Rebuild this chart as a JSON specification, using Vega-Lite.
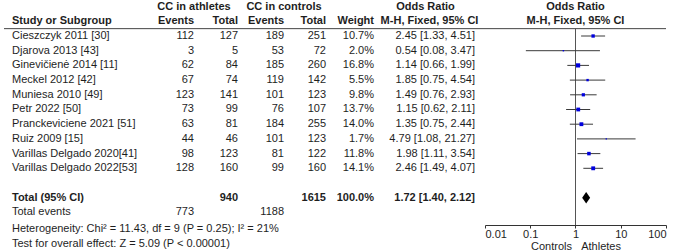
{
  "$schema": "https://vega.github.io/schema/vega-lite/v6.json",
  "padding": {"left": 3, "top": 0, "right": 11, "bottom": 0},
  "spacing": 0,
  "bounds": "flush",
  "config": {
    "view": {"stroke": null},
    "text": {"font": "Liberation Sans", "fontSize": 11, "color": "#1e1e1e", "baseline": "middle"},
    "rule": {"color": "#444444", "strokeWidth": 1}
  },
  "datasets": {
    "rows": [
      {"kind": "study", "row": 0, "label": "Cieszczyk  2011 [30]", "ev_a": 112, "tot_a": 127, "ev_c": 189, "tot_c": 251, "weight": 0.107, "or": 2.45, "lo": 1.33, "hi": 4.51, "ci": "2.45 [1.33, 4.51]"},
      {"kind": "study", "row": 1, "label": "Djarova 2013 [43]", "ev_a": 3, "tot_a": 5, "ev_c": 53, "tot_c": 72, "weight": 0.020, "or": 0.54, "lo": 0.08, "hi": 3.47, "ci": "0.54 [0.08, 3.47]"},
      {"kind": "study", "row": 2, "label": "Ginevičienė 2014 [11]", "ev_a": 62, "tot_a": 84, "ev_c": 185, "tot_c": 260, "weight": 0.168, "or": 1.14, "lo": 0.66, "hi": 1.99, "ci": "1.14 [0.66, 1.99]"},
      {"kind": "study", "row": 3, "label": "Meckel 2012 [42]", "ev_a": 67, "tot_a": 74, "ev_c": 119, "tot_c": 142, "weight": 0.055, "or": 1.85, "lo": 0.75, "hi": 4.54, "ci": "1.85 [0.75, 4.54]"},
      {"kind": "study", "row": 4, "label": "Muniesa 2010 [49]", "ev_a": 123, "tot_a": 141, "ev_c": 101, "tot_c": 123, "weight": 0.098, "or": 1.49, "lo": 0.76, "hi": 2.93, "ci": "1.49 [0.76, 2.93]"},
      {"kind": "study", "row": 5, "label": "Petr 2022 [50]", "ev_a": 73, "tot_a": 99, "ev_c": 76, "tot_c": 107, "weight": 0.137, "or": 1.15, "lo": 0.62, "hi": 2.11, "ci": "1.15 [0.62, 2.11]"},
      {"kind": "study", "row": 6, "label": "Pranckeviciene 2021 [51]", "ev_a": 63, "tot_a": 81, "ev_c": 184, "tot_c": 255, "weight": 0.140, "or": 1.35, "lo": 0.75, "hi": 2.44, "ci": "1.35 [0.75, 2.44]"},
      {"kind": "study", "row": 7, "label": "Ruiz 2009 [15]", "ev_a": 44, "tot_a": 46, "ev_c": 101, "tot_c": 123, "weight": 0.017, "or": 4.79, "lo": 1.08, "hi": 21.27, "ci": "4.79 [1.08, 21.27]"},
      {"kind": "study", "row": 8, "label": "Varillas Delgado 2020[41]", "ev_a": 98, "tot_a": 123, "ev_c": 81, "tot_c": 122, "weight": 0.118, "or": 1.98, "lo": 1.11, "hi": 3.54, "ci": "1.98 [1.11, 3.54]"},
      {"kind": "study", "row": 9, "label": "Varillas Delgado 2022[53]", "ev_a": 128, "tot_a": 160, "ev_c": 99, "tot_c": 160, "weight": 0.141, "or": 2.46, "lo": 1.49, "hi": 4.07, "ci": "2.46 [1.49, 4.07]"},
      {"kind": "total", "row": 11, "label": "Total (95% CI)", "tot_a": 940, "tot_c": 1615, "weight": 1.0, "or": 1.72, "lo": 1.40, "hi": 2.12, "ci": "1.72 [1.40, 2.12]"},
      {"kind": "events", "row": 12, "label": "Total events", "ev_a": 773, "ev_c": 1188},
      {"kind": "note", "row": 13, "label": "Heterogeneity: Chi² = 11.43, df = 9 (P = 0.25); I² = 21%"},
      {"kind": "note", "row": 14, "label": "Test for overall effect: Z = 5.09 (P < 0.00001)"}
    ]
  },
  "hconcat": [
    {
      "width": 147, "height": 252,
      "layer": [
        {"data": {"values": [{"t": "Study or Subgroup"}]}, "mark": {"type": "text", "align": "left", "dx": 8, "fontWeight": "bold"},
         "encoding": {"x": {"value": 0}, "y": {"datum": -1, "type": "quantitative", "scale": {"domain": [-2.381, 14.762], "reverse": true, "nice": false, "zero": false}, "axis": null}, "text": {"field": "t"}}},
        {"data": {"values": [{"r": 0}]}, "mark": "rule",
         "encoding": {"y": {"datum": -0.5, "type": "quantitative", "scale": {"domain": [-2.381, 14.762], "reverse": true, "nice": false, "zero": false}, "axis": null}}},
        {"data": {"name": "rows"}, "transform": [{"filter": "datum.kind == 'study' || datum.kind == 'events'"}], "mark": {"type": "text", "align": "left", "dx": 8},
         "encoding": {"x": {"value": 0}, "y": {"field": "row", "type": "quantitative", "scale": {"domain": [-2.381, 14.762], "reverse": true, "nice": false, "zero": false}, "axis": null}, "text": {"field": "label"}}},
        {"data": {"name": "rows"}, "transform": [{"filter": "datum.kind == 'total'"}], "mark": {"type": "text", "align": "left", "dx": 8, "fontWeight": "bold"},
         "encoding": {"x": {"value": 0}, "y": {"field": "row", "type": "quantitative", "scale": {"domain": [-2.381, 14.762], "reverse": true, "nice": false, "zero": false}, "axis": null}, "text": {"field": "label"}}},
        {"data": {"name": "rows"}, "transform": [{"filter": "datum.kind == 'note'"}], "mark": {"type": "text", "align": "left", "dx": 8, "dy": 2},
         "encoding": {"x": {"value": 0}, "y": {"field": "row", "type": "quantitative", "scale": {"domain": [-2.381, 14.762], "reverse": true, "nice": false, "zero": false}, "axis": null}, "text": {"field": "label"}}}
      ]
    },
    {
      "width": 43, "height": 252,
      "layer": [
        {"data": {"values": [{"t": "CC in athletes"}]}, "mark": {"type": "text", "align": "center", "fontWeight": "bold"},
         "encoding": {"x": {"value": "width"}, "y": {"datum": -2, "type": "quantitative", "scale": {"domain": [-2.381, 14.762], "reverse": true, "nice": false, "zero": false}, "axis": null}, "text": {"field": "t"}}},
        {"data": {"values": [{"t": "Events"}]}, "mark": {"type": "text", "align": "right", "fontWeight": "bold"},
         "encoding": {"x": {"value": "width"}, "y": {"datum": -1, "type": "quantitative", "scale": {"domain": [-2.381, 14.762], "reverse": true, "nice": false, "zero": false}, "axis": null}, "text": {"field": "t"}}},
        {"data": {"values": [{"r": 0}]}, "mark": "rule",
         "encoding": {"y": {"datum": -0.5, "type": "quantitative", "scale": {"domain": [-2.381, 14.762], "reverse": true, "nice": false, "zero": false}, "axis": null}}},
        {"data": {"name": "rows"}, "transform": [{"filter": "isValid(datum.ev_a)"}], "mark": {"type": "text", "align": "right"},
         "encoding": {"x": {"value": "width"}, "y": {"field": "row", "type": "quantitative", "scale": {"domain": [-2.381, 14.762], "reverse": true, "nice": false, "zero": false}, "axis": null}, "text": {"field": "ev_a", "type": "quantitative"}}}
      ]
    },
    {
      "width": 44, "height": 252,
      "layer": [
        {"data": {"values": [{"t": "Total"}]}, "mark": {"type": "text", "align": "right", "fontWeight": "bold"},
         "encoding": {"x": {"value": "width"}, "y": {"datum": -1, "type": "quantitative", "scale": {"domain": [-2.381, 14.762], "reverse": true, "nice": false, "zero": false}, "axis": null}, "text": {"field": "t"}}},
        {"data": {"values": [{"r": 0}]}, "mark": "rule",
         "encoding": {"y": {"datum": -0.5, "type": "quantitative", "scale": {"domain": [-2.381, 14.762], "reverse": true, "nice": false, "zero": false}, "axis": null}}},
        {"data": {"name": "rows"}, "transform": [{"filter": "datum.kind == 'study'"}], "mark": {"type": "text", "align": "right"},
         "encoding": {"x": {"value": "width"}, "y": {"field": "row", "type": "quantitative", "scale": {"domain": [-2.381, 14.762], "reverse": true, "nice": false, "zero": false}, "axis": null}, "text": {"field": "tot_a", "type": "quantitative"}}},
        {"data": {"name": "rows"}, "transform": [{"filter": "datum.kind == 'total'"}], "mark": {"type": "text", "align": "right", "fontWeight": "bold"},
         "encoding": {"x": {"value": "width"}, "y": {"field": "row", "type": "quantitative", "scale": {"domain": [-2.381, 14.762], "reverse": true, "nice": false, "zero": false}, "axis": null}, "text": {"field": "tot_a", "type": "quantitative"}}}
      ]
    },
    {
      "width": 46, "height": 252,
      "layer": [
        {"data": {"values": [{"t": "CC in controls"}]}, "mark": {"type": "text", "align": "center", "fontWeight": "bold"},
         "encoding": {"x": {"value": "width"}, "y": {"datum": -2, "type": "quantitative", "scale": {"domain": [-2.381, 14.762], "reverse": true, "nice": false, "zero": false}, "axis": null}, "text": {"field": "t"}}},
        {"data": {"values": [{"t": "Events"}]}, "mark": {"type": "text", "align": "right", "fontWeight": "bold"},
         "encoding": {"x": {"value": "width"}, "y": {"datum": -1, "type": "quantitative", "scale": {"domain": [-2.381, 14.762], "reverse": true, "nice": false, "zero": false}, "axis": null}, "text": {"field": "t"}}},
        {"data": {"values": [{"r": 0}]}, "mark": "rule",
         "encoding": {"y": {"datum": -0.5, "type": "quantitative", "scale": {"domain": [-2.381, 14.762], "reverse": true, "nice": false, "zero": false}, "axis": null}}},
        {"data": {"name": "rows"}, "transform": [{"filter": "isValid(datum.ev_c)"}], "mark": {"type": "text", "align": "right"},
         "encoding": {"x": {"value": "width"}, "y": {"field": "row", "type": "quantitative", "scale": {"domain": [-2.381, 14.762], "reverse": true, "nice": false, "zero": false}, "axis": null}, "text": {"field": "ev_c", "type": "quantitative"}}}
      ]
    },
    {
      "width": 42, "height": 252,
      "layer": [
        {"data": {"values": [{"t": "Total"}]}, "mark": {"type": "text", "align": "right", "fontWeight": "bold"},
         "encoding": {"x": {"value": "width"}, "y": {"datum": -1, "type": "quantitative", "scale": {"domain": [-2.381, 14.762], "reverse": true, "nice": false, "zero": false}, "axis": null}, "text": {"field": "t"}}},
        {"data": {"values": [{"r": 0}]}, "mark": "rule",
         "encoding": {"y": {"datum": -0.5, "type": "quantitative", "scale": {"domain": [-2.381, 14.762], "reverse": true, "nice": false, "zero": false}, "axis": null}}},
        {"data": {"name": "rows"}, "transform": [{"filter": "datum.kind == 'study'"}], "mark": {"type": "text", "align": "right"},
         "encoding": {"x": {"value": "width"}, "y": {"field": "row", "type": "quantitative", "scale": {"domain": [-2.381, 14.762], "reverse": true, "nice": false, "zero": false}, "axis": null}, "text": {"field": "tot_c", "type": "quantitative"}}},
        {"data": {"name": "rows"}, "transform": [{"filter": "datum.kind == 'total'"}], "mark": {"type": "text", "align": "right", "fontWeight": "bold"},
         "encoding": {"x": {"value": "width"}, "y": {"field": "row", "type": "quantitative", "scale": {"domain": [-2.381, 14.762], "reverse": true, "nice": false, "zero": false}, "axis": null}, "text": {"field": "tot_c", "type": "quantitative"}}}
      ]
    },
    {
      "width": 48, "height": 252,
      "layer": [
        {"data": {"values": [{"t": "Weight"}]}, "mark": {"type": "text", "align": "right", "fontWeight": "bold"},
         "encoding": {"x": {"value": "width"}, "y": {"datum": -1, "type": "quantitative", "scale": {"domain": [-2.381, 14.762], "reverse": true, "nice": false, "zero": false}, "axis": null}, "text": {"field": "t"}}},
        {"data": {"values": [{"r": 0}]}, "mark": "rule",
         "encoding": {"y": {"datum": -0.5, "type": "quantitative", "scale": {"domain": [-2.381, 14.762], "reverse": true, "nice": false, "zero": false}, "axis": null}}},
        {"data": {"name": "rows"}, "transform": [{"filter": "datum.kind == 'study'"}], "mark": {"type": "text", "align": "right"},
         "encoding": {"x": {"value": "width"}, "y": {"field": "row", "type": "quantitative", "scale": {"domain": [-2.381, 14.762], "reverse": true, "nice": false, "zero": false}, "axis": null}, "text": {"field": "weight", "type": "quantitative", "format": ".1%"}}},
        {"data": {"name": "rows"}, "transform": [{"filter": "datum.kind == 'total'"}], "mark": {"type": "text", "align": "right", "fontWeight": "bold"},
         "encoding": {"x": {"value": "width"}, "y": {"field": "row", "type": "quantitative", "scale": {"domain": [-2.381, 14.762], "reverse": true, "nice": false, "zero": false}, "axis": null}, "text": {"field": "weight", "type": "quantitative", "format": ".1%"}}}
      ]
    },
    {
      "width": 111, "height": 252,
      "layer": [
        {"data": {"values": [{"t": "Odds Ratio"}]}, "mark": {"type": "text", "align": "center", "fontWeight": "bold", "dx": -4},
         "encoding": {"y": {"datum": -2, "type": "quantitative", "scale": {"domain": [-2.381, 14.762], "reverse": true, "nice": false, "zero": false}, "axis": null}, "text": {"field": "t"}}},
        {"data": {"values": [{"t": "M-H, Fixed, 95% CI"}]}, "mark": {"type": "text", "align": "center", "fontWeight": "bold"},
         "encoding": {"y": {"datum": -1, "type": "quantitative", "scale": {"domain": [-2.381, 14.762], "reverse": true, "nice": false, "zero": false}, "axis": null}, "text": {"field": "t"}}},
        {"data": {"values": [{"r": 0}]}, "mark": "rule",
         "encoding": {"y": {"datum": -0.5, "type": "quantitative", "scale": {"domain": [-2.381, 14.762], "reverse": true, "nice": false, "zero": false}, "axis": null}}},
        {"data": {"name": "rows"}, "transform": [{"filter": "datum.kind == 'study'"}], "mark": {"type": "text", "align": "right", "dx": -10},
         "encoding": {"x": {"value": "width"}, "y": {"field": "row", "type": "quantitative", "scale": {"domain": [-2.381, 14.762], "reverse": true, "nice": false, "zero": false}, "axis": null}, "text": {"field": "ci"}}},
        {"data": {"name": "rows"}, "transform": [{"filter": "datum.kind == 'total'"}], "mark": {"type": "text", "align": "right", "dx": -10, "fontWeight": "bold"},
         "encoding": {"x": {"value": "width"}, "y": {"field": "row", "type": "quantitative", "scale": {"domain": [-2.381, 14.762], "reverse": true, "nice": false, "zero": false}, "axis": null}, "text": {"field": "ci"}}}
      ]
    },
    {
      "width": 181, "height": 224,
      "layer": [
        {"data": {"values": [{"t": "Odds Ratio"}]}, "mark": {"type": "text", "align": "center", "fontWeight": "bold"},
         "encoding": {"y": {"datum": -2, "type": "quantitative", "scale": {"domain": [-2.381, 12.857], "reverse": true, "nice": false, "zero": false}, "axis": null}, "text": {"field": "t"}}},
        {"data": {"values": [{"t": "M-H, Fixed, 95% CI"}]}, "mark": {"type": "text", "align": "center", "fontWeight": "bold"},
         "encoding": {"y": {"datum": -1, "type": "quantitative", "scale": {"domain": [-2.381, 12.857], "reverse": true, "nice": false, "zero": false}, "axis": null}, "text": {"field": "t"}}},
        {"data": {"values": [{"r": 0}]}, "mark": "rule",
         "encoding": {"y": {"datum": -0.5, "type": "quantitative", "scale": {"domain": [-2.381, 12.857], "reverse": true, "nice": false, "zero": false}, "axis": null}}},
        {"data": {"values": [{"r": 0}]}, "mark": {"type": "rule", "color": "#555555"},
         "encoding": {
           "x": {"datum": 1, "type": "quantitative", "scale": {"type": "log", "domain": [0.01, 100], "nice": false},
                 "axis": {"values": [0.01, 0.1, 1, 10, 100], "format": "~g", "title": "Controls\u00a0\u00a0\u00a0Athletes", "grid": false, "domainColor": "#333333", "tickColor": "#333333", "tickSize": 3, "labelPadding": 0, "labelFont": "Liberation Sans", "labelFontSize": 11, "labelColor": "#1e1e1e", "titleFont": "Liberation Sans", "titleFontSize": 11, "titleFontWeight": "normal", "titleColor": "#1e1e1e", "titlePadding": 1}},
           "y": {"datum": -0.5, "type": "quantitative", "scale": {"domain": [-2.381, 12.857], "reverse": true, "nice": false, "zero": false}, "axis": null},
           "y2": {"value": "height"}
         }},
        {"data": {"name": "rows"}, "transform": [{"filter": "datum.kind == 'study'"}], "mark": {"type": "rule", "color": "#3a3a3a"},
         "encoding": {
           "x": {"field": "lo", "type": "quantitative", "scale": {"type": "log", "domain": [0.01, 100], "nice": false}},
           "x2": {"field": "hi"},
           "y": {"field": "row", "type": "quantitative", "scale": {"domain": [-2.381, 12.857], "reverse": true, "nice": false, "zero": false}, "axis": null}
         }},
        {"data": {"name": "rows"}, "transform": [{"filter": "datum.kind == 'study'"}], "mark": {"type": "point", "shape": "square", "filled": true, "opacity": 1, "color": "#0000dd"},
         "encoding": {
           "x": {"field": "or", "type": "quantitative", "scale": {"type": "log", "domain": [0.01, 100], "nice": false}},
           "y": {"field": "row", "type": "quantitative", "scale": {"domain": [-2.381, 12.857], "reverse": true, "nice": false, "zero": false}, "axis": null},
           "size": {"field": "weight", "type": "quantitative", "scale": {"domain": [0, 1], "range": [0, 105]}, "legend": null}
         }},
        {"data": {"name": "rows"}, "transform": [{"filter": "datum.kind == 'total'"}], "mark": {"type": "point", "shape": "M-0.7,0L0,-1L0.7,0L0,1Z", "filled": true, "opacity": 1, "color": "#000000", "size": 130, "strokeWidth": 0},
         "encoding": {
           "x": {"field": "or", "type": "quantitative", "scale": {"type": "log", "domain": [0.01, 100], "nice": false}},
           "y": {"field": "row", "type": "quantitative", "scale": {"domain": [-2.381, 12.857], "reverse": true, "nice": false, "zero": false}, "axis": null}
         }}
      ]
    }
  ]
}
